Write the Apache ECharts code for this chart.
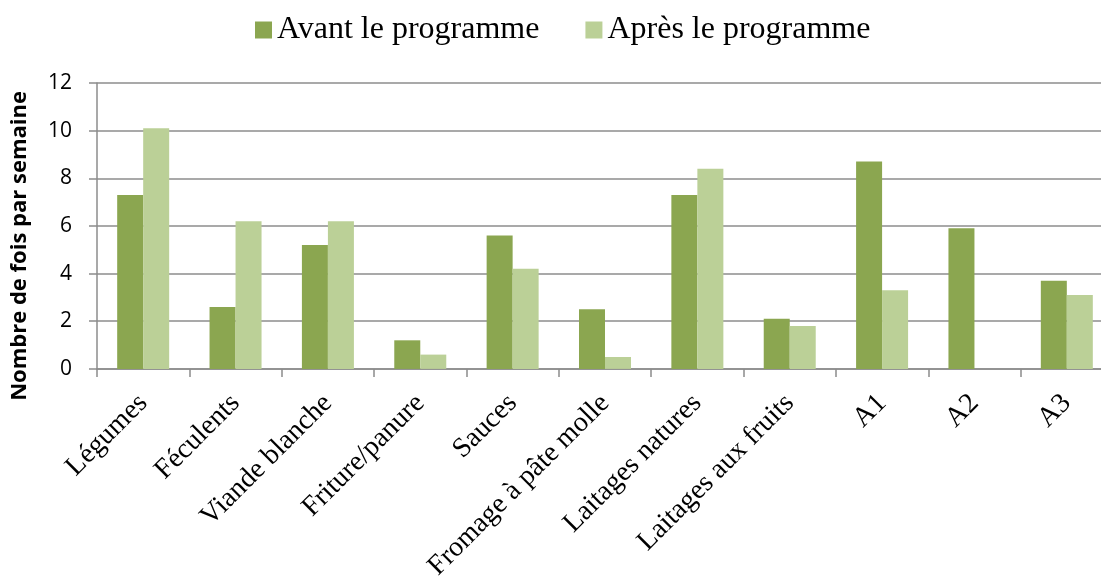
<!DOCTYPE html>
<html>
<head>
<meta charset="utf-8">
<script src="https://cdn.jsdelivr.net/npm/echarts@6/dist/echarts.min.js"></script>
<style>
  html, body { margin: 0; padding: 0; background: #fff; }
  /* the plot area runs a little past the right edge of the picture, so clip it */
  #frame { position: relative; width: 1101px; height: 583px; overflow: hidden; }
  #chart { position: absolute; left: 0; top: 0; width: 1115px; height: 583px; }
</style>
</head>
<body>
<div id="frame"><div id="chart"></div></div>
<script>
// categories and values
const categories = ['Légumes', 'Féculents', 'Viande blanche', 'Friture/panure', 'Sauces',
  'Fromage à pâte molle', 'Laitages natures', 'Laitages aux fruits', 'A1', 'A2', 'A3']
const avant = [7.3, 2.6, 5.2, 1.2, 5.6, 2.5, 7.3, 2.1, 8.7, 5.9, 3.7]
const apres = [10.1, 6.2, 6.2, 0.6, 4.2, 0.5, 8.4, 1.8, 3.3, null, 3.1]
const seriesNames = ['Avant le programme', 'Après le programme']
const yAxisName = 'Nombre de fois par semaine'

const chart = echarts.init(document.getElementById('chart'))

chart.setOption({
  animation: false,
  legend: {
    top: 9,
    left: 250,
    itemWidth: 17,
    itemHeight: 17,
    itemGap: 46,
    icon: 'rect',
    textStyle: {
      fontFamily: 'Liberation Serif',
      fontSize: 32,
      color: '#000'
    },
    data: seriesNames
  },
  grid: {
    left: 97,
    right: 2,
    top: 83,
    bottom: 211
  },
  xAxis: {
    type: 'category',
    data: categories,
    axisLine: { lineStyle: { color: '#8c8c8c', width: 1.5 } },
    axisTick: { show: true, length: 8, lineStyle: { color: '#8c8c8c', width: 1.5 } },
    axisLabel: {
      interval: 0,
      rotate: 45,
      margin: 30,
      fontFamily: 'Liberation Serif',
      fontSize: 28,
      color: '#000'
    }
  },
  yAxis: {
    type: 'value',
    min: 0,
    max: 12,
    interval: 2,
    name: yAxisName,
    nameLocation: 'middle',
    nameGap: 66,
    nameTextStyle: {
      fontFamily: 'Open Sans',
      fontWeight: 'bold',
      fontSize: 22,
      color: '#000',
      padding: [0, 40, 0, 0]
    },
    axisLine: { show: true, lineStyle: { color: '#8c8c8c', width: 1.5 } },
    axisTick: { show: true, length: 8, lineStyle: { color: '#8c8c8c', width: 1.5 } },
    axisLabel: {
      margin: 25,
      fontFamily: 'Open Sans',
      fontSize: 21,
      color: '#000'
    },
    splitLine: { lineStyle: { color: '#8c8c8c', width: 1.5 } }
  },
  series: [
    {
      name: seriesNames[0],
      type: 'bar',
      data: avant,
      barWidth: 26,
      barGap: '0%',
      itemStyle: { color: '#8BA650' }
    },
    {
      name: seriesNames[1],
      type: 'bar',
      data: apres,
      barWidth: 26,
      itemStyle: { color: '#BBD097' }
    }
  ]
})
</script>
</body>
</html>
